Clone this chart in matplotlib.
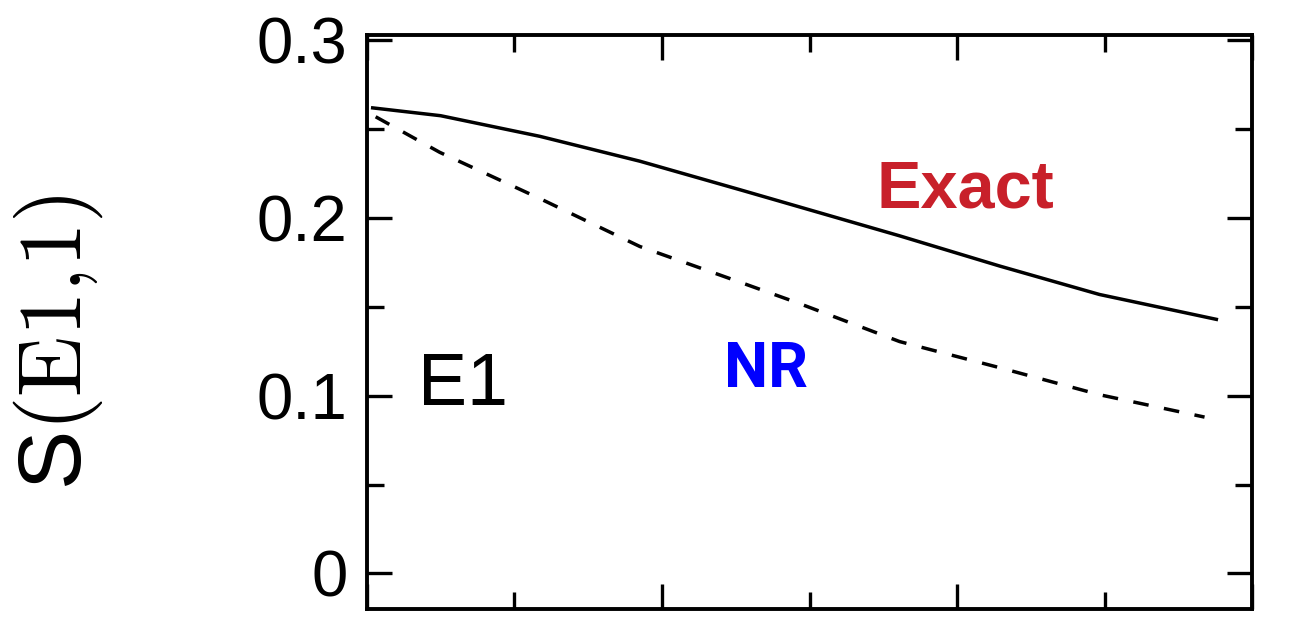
import numpy as np
import matplotlib
matplotlib.use('Agg')
import matplotlib.pyplot as plt
from matplotlib.ticker import MultipleLocator

plt.rcParams['font.family'] = ['Liberation Sans', 'DejaVu Sans']
plt.rcParams['mathtext.fontset'] = 'cm'

# Curves
exact_x = [0.02, 0.25, 0.586, 0.925, 1.263, 1.805, 2.144, 2.482, 2.878]
exact_y = [0.262, 0.2576, 0.246, 0.232, 0.216, 0.190, 0.173, 0.157, 0.143]

nr_x = [0.03, 0.247, 0.586, 0.925, 1.263, 1.456, 1.805, 2.144, 2.482, 2.838]
nr_y = [0.257, 0.237, 0.211, 0.184, 0.164, 0.1525, 0.1305, 0.1158, 0.1006, 0.088]

y_ticks = [0, 0.1, 0.2, 0.3]
y_labels = ['0', '0.1', '0.2', '0.3']

fig = plt.figure(figsize=(13.1, 6.21), dpi=100)
ax = fig.add_axes([0.280, 0.0193, 0.676, 0.9243])

ax.plot(exact_x, exact_y, color='black', lw=2.5)
ax.plot(nr_x, nr_y, color='black', lw=2.5, dashes=(4.5, 4.5))

ax.set_xlim(0, 3)
ax.set_ylim(-0.02, 0.303)

ax.xaxis.set_major_locator(MultipleLocator(1))
ax.xaxis.set_minor_locator(MultipleLocator(0.5))
ax.set_yticks(y_ticks)
ax.set_yticklabels(y_labels)
ax.yaxis.set_minor_locator(MultipleLocator(0.05))

ax.tick_params(which='both', direction='in', top=True, right=True,
               width=2.4, labelbottom=False, labelsize=47, pad=14)
ax.tick_params(which='major', length=18)
ax.tick_params(which='minor', length=12)
for s in ax.spines.values():
    s.set_linewidth(2.8)

ax.set_ylabel(r'S$\mathrm{(E1{,}1)}$', fontsize=64)
ax.yaxis.set_label_coords(-0.296, 0.465)

ax.text(0.676, 0.73, 'Exact', transform=ax.transAxes, color='#c8202a',
        fontsize=48, fontweight='bold', ha='center', va='center')
ax.text(0.451, 0.417, 'NR', transform=ax.transAxes, color='#0000ff',
        fontsize=45, fontweight='bold', family='Roboto',
        ha='center', va='center')
ax.text(0.058, 0.39, 'E1', transform=ax.transAxes, color='black',
        fontsize=53, ha='left', va='center')

fig.savefig('out.png', dpi=100)
